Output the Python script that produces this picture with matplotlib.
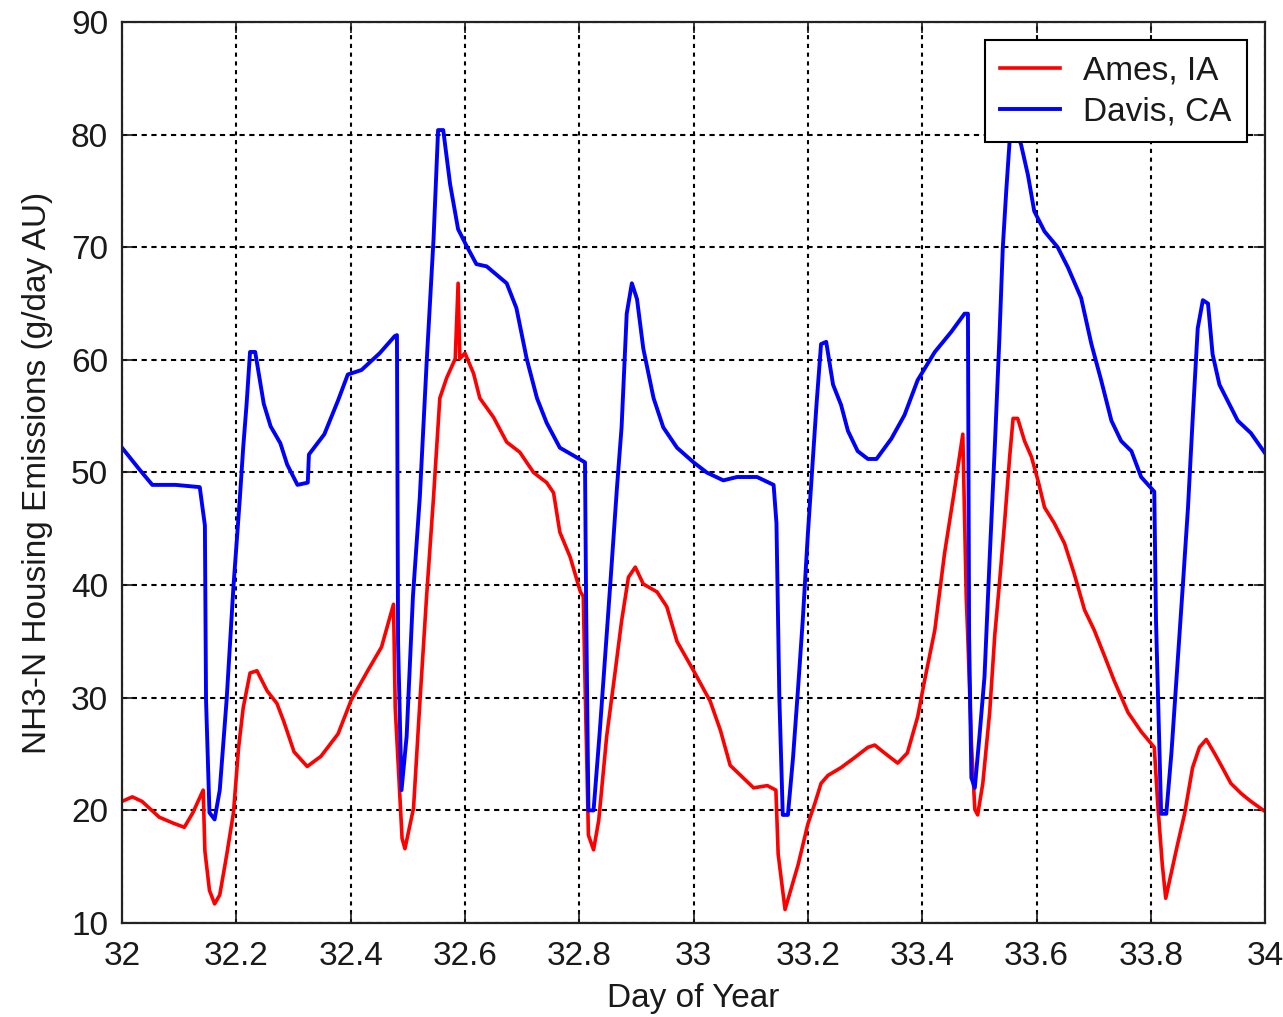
import matplotlib.pyplot as plt

plt.rcParams['font.family'] = ['Liberation Sans', 'DejaVu Sans']

# Davis, CA (blue) - day of year / emissions
davis_day = [32.0, 32.03, 32.053, 32.094, 32.136, 32.145, 32.147, 32.153, 32.162, 32.171,
             32.183, 32.195, 32.206, 32.212, 32.218, 32.224, 32.233, 32.248, 32.26, 32.277,
             32.289, 32.307, 32.325, 32.327, 32.354, 32.378, 32.395, 32.419, 32.451, 32.477,
             32.481, 32.483, 32.489, 32.498, 32.509, 32.521, 32.533, 32.545, 32.553, 32.562,
             32.574, 32.588, 32.603, 32.62, 32.638, 32.673, 32.69, 32.708, 32.726, 32.743,
             32.766, 32.79, 32.81, 32.812, 32.816, 32.825, 32.836, 32.854, 32.866, 32.874,
             32.883, 32.892, 32.901, 32.912, 32.93, 32.947, 32.971, 33.0, 33.023, 33.052,
             33.076, 33.111, 33.14, 33.145, 33.15, 33.156, 33.165, 33.174, 33.183, 33.191,
             33.2, 33.209, 33.215, 33.223, 33.232, 33.244, 33.258, 33.27, 33.287, 33.305,
             33.32, 33.346, 33.369, 33.392, 33.422, 33.451, 33.474, 33.48, 33.482, 33.486,
             33.492, 33.5, 33.509, 33.518, 33.527, 33.535, 33.541, 33.547, 33.553, 33.559,
             33.564, 33.573, 33.585, 33.596, 33.614, 33.637, 33.655, 33.678, 33.696, 33.713,
             33.731, 33.748, 33.766, 33.783, 33.806, 33.809, 33.818, 33.827, 33.836, 33.847,
             33.856, 33.865, 33.873, 33.882, 33.891, 33.9, 33.908, 33.92, 33.934, 33.952,
             33.975, 34.0]
davis_nh3 = [52.2, 50.3, 48.9, 48.9, 48.7, 45.3, 29.8, 19.8, 19.2, 21.8,
             29.8, 39.9, 47.6, 52.2, 56.1, 60.7, 60.7, 56.1, 54.1, 52.6,
             50.7, 48.9, 49.1, 51.6, 53.4, 56.4, 58.7, 59.1, 60.6, 62.1,
             62.2, 34.9, 21.8, 26.6, 39.0, 47.8, 59.8, 70.7, 80.4, 80.4,
             75.6, 71.6, 70.1, 68.5, 68.3, 66.8, 64.6, 60.1, 56.6, 54.4,
             52.2, 51.5, 50.9, 38.1, 20.0, 20.0, 27.1, 39.9, 48.7, 54.0,
             64.1, 66.8, 65.4, 61.0, 56.6, 54.0, 52.2, 50.9, 50.0, 49.3,
             49.6, 49.6, 48.9, 45.5, 30.1, 19.6, 19.6, 24.7, 31.0, 36.9,
             44.6, 51.5, 56.0, 61.4, 61.6, 57.8, 56.0, 53.7, 51.9, 51.2,
             51.2, 53.0, 55.1, 58.2, 60.7, 62.5, 64.1, 64.1, 35.6, 22.9,
             22.0, 26.5, 31.9, 42.4, 52.3, 61.9, 70.0, 75.0, 79.5, 80.8,
             80.4, 79.1, 76.4, 73.2, 71.4, 70.0, 68.2, 65.5, 61.4, 58.2,
             54.6, 52.8, 51.9, 49.6, 48.3, 36.9, 19.7, 19.7, 25.1, 33.3,
             40.0, 46.9, 54.6, 62.8, 65.3, 65.0, 60.5, 57.8, 56.4, 54.6,
             53.5, 51.7]

# Ames, IA (red)
ames_day = [32.0, 32.018, 32.035, 32.065, 32.088, 32.109, 32.124, 32.142, 32.145, 32.153,
            32.162, 32.171, 32.183, 32.195, 32.204, 32.212, 32.224, 32.236, 32.254, 32.271,
            32.283, 32.301, 32.324, 32.348, 32.378, 32.401, 32.431, 32.454, 32.475, 32.478,
            32.49, 32.495, 32.51, 32.521, 32.533, 32.545, 32.556, 32.568, 32.583, 32.588,
            32.591, 32.6, 32.615, 32.626, 32.65, 32.673, 32.696, 32.72, 32.743, 32.755,
            32.766, 32.784, 32.802, 32.807, 32.81, 32.816, 32.825, 32.834, 32.848, 32.863,
            32.874, 32.886, 32.898, 32.912, 32.936, 32.953, 32.971, 33.0, 33.029, 33.047,
            33.064, 33.105, 33.129, 33.144, 33.148, 33.16, 33.183, 33.2, 33.212, 33.223,
            33.235, 33.258, 33.282, 33.305, 33.317, 33.334, 33.357, 33.374, 33.392, 33.404,
            33.422, 33.439, 33.456, 33.471, 33.477, 33.48, 33.486, 33.492, 33.497, 33.506,
            33.518, 33.527, 33.535, 33.544, 33.553, 33.559, 33.567, 33.579, 33.591, 33.603,
            33.614, 33.631, 33.649, 33.666, 33.684, 33.701, 33.719, 33.736, 33.76, 33.783,
            33.806, 33.812, 33.82, 33.826, 33.845, 33.859, 33.873, 33.885, 33.897, 33.911,
            33.923, 33.94, 33.958, 33.975, 34.0]
ames_nh3 = [20.8, 21.2, 20.8, 19.4, 18.9, 18.5, 19.8, 21.8, 16.4, 12.9,
            11.7, 12.5, 16.0, 19.8, 25.6, 29.1, 32.2, 32.4, 30.6, 29.5,
            27.9, 25.2, 23.9, 24.8, 26.8, 29.8, 32.5, 34.5, 38.3, 29.1,
            17.5, 16.6, 20.2, 29.5, 39.1, 47.8, 56.6, 58.4, 60.1, 66.8,
            60.1, 60.6, 58.8, 56.6, 54.9, 52.7, 51.8, 50.0, 49.1, 48.2,
            44.7, 42.5, 39.4, 39.0, 31.5, 17.8, 16.5, 19.1, 26.6, 32.4,
            36.8, 40.7, 41.6, 40.1, 39.4, 38.1, 35.0, 32.4, 29.7, 27.1,
            24.0, 22.0, 22.2, 21.8, 16.1, 11.2, 15.2, 18.8, 20.6, 22.4,
            23.1, 23.8, 24.7, 25.6, 25.8, 25.1, 24.2, 25.1, 28.3, 31.5,
            36.0, 42.8, 48.3, 53.4, 39.0, 35.0, 26.0, 20.1, 19.6, 22.4,
            28.7, 35.6, 40.1, 45.5, 51.4, 54.8, 54.8, 52.8, 51.4, 49.2,
            46.9, 45.5, 43.7, 41.0, 37.8, 36.0, 33.7, 31.5, 28.7, 27.0,
            25.6, 20.6, 15.2, 12.2, 16.6, 19.7, 23.8, 25.6, 26.3, 25.1,
            24.0, 22.4, 21.5, 20.8, 19.9]

x_ticks = [32, 32.2, 32.4, 32.6, 32.8, 33, 33.2, 33.4, 33.6, 33.8, 34]
x_labels = ['32', '32.2', '32.4', '32.6', '32.8', '33', '33.2', '33.4', '33.6', '33.8', '34']
y_ticks = [10, 20, 30, 40, 50, 60, 70, 80, 90]

txt = '#1a1a1a'

fig = plt.figure(figsize=(12.83, 10.17), dpi=100)
ax = fig.add_axes([0.0951, 0.0924, 0.8910, 0.886])

ax.plot(ames_day, ames_nh3, color='red', lw=2.6, label='Ames, IA')
ax.plot(davis_day, davis_nh3, color='blue', lw=2.8, label='Davis, CA')

ax.set_xlim(32, 34)
ax.set_ylim(10, 90)
ax.set_xticks(x_ticks)
ax.set_xticklabels(x_labels)
ax.set_yticks(y_ticks)

# MATLAB-like grid: dashed horizontal, dotted vertical
ax.yaxis.grid(True, color='black', lw=1.5, linestyle=(0, (2.5, 2.2)))
ax.xaxis.grid(True, color='black', lw=1.5, linestyle=(0, (2, 2.2)))
ax.set_axisbelow(True)

ax.tick_params(direction='in', length=8, width=1.2, top=True, right=True,
               labelsize=24, colors=txt)
ax.tick_params(axis='x', pad=13)
ax.tick_params(axis='y', pad=10)
for s in ax.spines.values():
    s.set_linewidth(1.6)
    s.set_color('#222222')

ax.set_xlabel('Day of Year', fontsize=24, color=txt, labelpad=8)
ax.set_ylabel('NH3-N Housing Emissions (g/day AU)', fontsize=24, color=txt, labelpad=13)

leg = ax.legend(loc='upper right', fontsize=24, fancybox=False, framealpha=1,
                edgecolor='black', borderaxespad=0.55, handlelength=1.8,
                handletextpad=0.7, labelspacing=0.3, borderpad=0.45)
leg.get_frame().set_linewidth(1.5)
for t in leg.get_texts():
    t.set_color(txt)

fig.savefig('out.png', dpi=100)
